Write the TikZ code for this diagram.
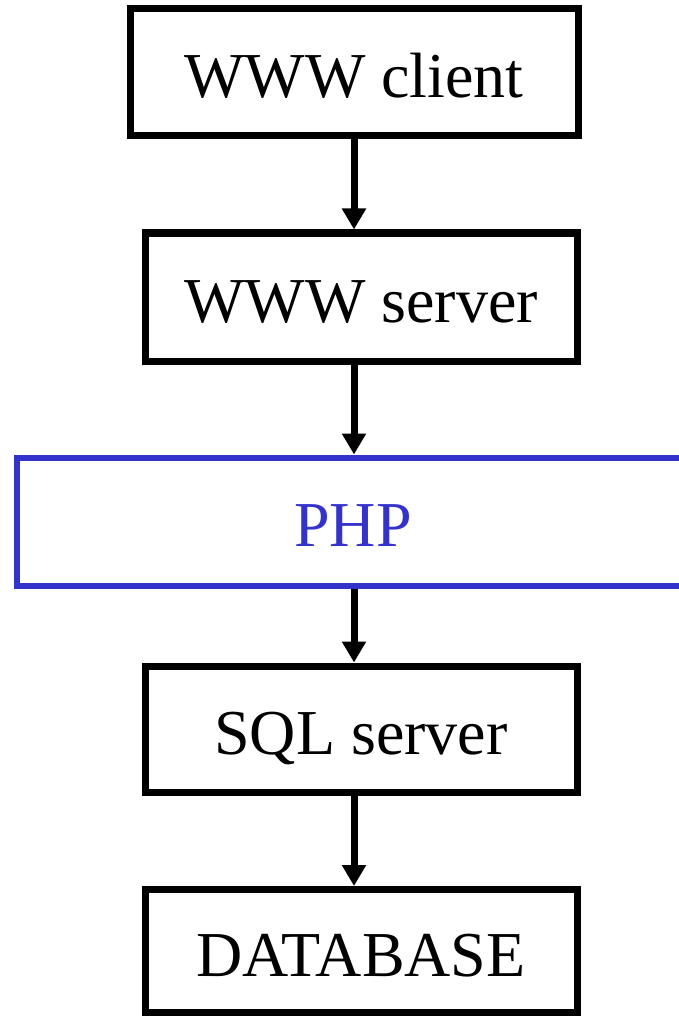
\documentclass[tikz,border=0pt]{standalone}
\usepackage{fontspec}
\setmainfont{Liberation Serif}
\usetikzlibrary{arrows.meta}
\definecolor{phpblue}{RGB}{51,51,204}
\tikzset{
  boxtext/.style={rectangle, inner sep=0pt, text height=50pt, text depth=0pt,
    font=\fontsize{64}{76}\selectfont},
  box/.style={boxtext, draw=black, line width=7pt, text=black},
  phpbox/.style={boxtext, draw=phpblue, line width=6pt, text=phpblue},
  conn/.style={line width=7pt, draw=black, -{Triangle[length=21pt,width=23pt]}}
}
\begin{document}
\begin{tikzpicture}[x=1pt,y=-1pt]
\useasboundingbox (0,0) rectangle (679,1016);
\clip (0,0) rectangle (679,1016);
\node[box, minimum width=448pt, minimum height=127pt] (client) at (354,72.5) {WWW client};
\node[box, minimum width=432pt, minimum height=128pt] (server) at (361,297) {WWW server};
\node[phpbox, minimum width=672pt, minimum height=128pt] (php) at (353,521.5) {PHP};
\node[box, minimum width=432pt, minimum height=126pt] (sql) at (361,729) {SQL server};
\node[box, minimum width=432pt, minimum height=123pt] (db) at (361,951) {DATABASE};
\draw[conn] (client.south) -- (client.south |- server.north);
\draw[conn] (client.south |- server.south) -- (client.south |- php.north);
\draw[conn] (client.south |- php.south) -- (client.south |- sql.north);
\draw[conn] (client.south |- sql.south) -- (client.south |- db.north);
\end{tikzpicture}
\end{document}
